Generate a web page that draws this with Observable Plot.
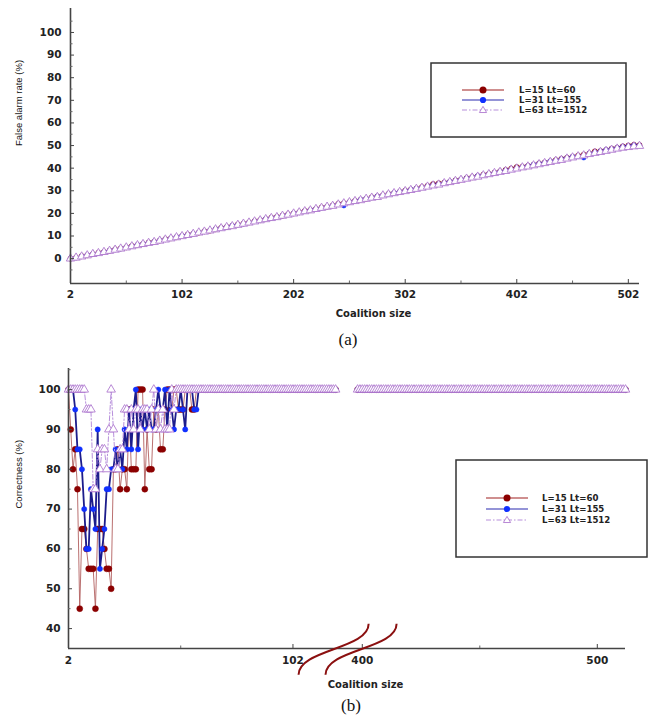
<!DOCTYPE html>
<html><head><meta charset="utf-8">
<script src="https://cdn.jsdelivr.net/npm/d3@7"></script>
<script src="https://cdn.jsdelivr.net/npm/@observablehq/plot@0.6"></script>
<style>
body{margin:0;background:#fff;}
#wrap{position:relative;width:650px;height:724px;overflow:hidden;font-family:"DejaVu Sans",sans-serif;}
#wrap svg{position:absolute;left:0;}
.cap{position:absolute;font-family:"Liberation Serif","Times New Roman",serif;font-size:17px;transform:translate(-50%,-50%);color:#111;}
</style></head><body><div id="wrap"></div>
<script>
// ---------- data ----------
const seriesNames = ["L=15 Lt=60", "L=31 Lt=155", "L=63 Lt=1512"];

// panel (a): coalition sizes 2..512 every 5
const sizesA = d3.range(2, 513, 5);
const falseAlarmL15 = [0,0.5,1.1,1.5,2.0,2.6,3.0,3.5,4.1,4.5,
 5.0,5.6,6.0,6.5,7.1,7.5,8.0,8.6,9.0,9.5,
 10.0,10.6,11.0,11.5,12.1,12.4,13.0,13.6,14.0,14.5,
 15.1,15.5,16.0,16.6,17.0,17.5,18.1,18.5,19.0,19.6,
 20.0,20.5,21.1,21.5,22.0,22.6,23.0,23.5,24.2,24.5,
 25.0,25.6,26.0,26.5,27.1,27.5,28.0,28.6,29.0,29.5,
 30.1,30.5,31.0,31.6,32.2,33.0,33.3,33.6,34.0,34.6,
 35.0,35.6,36.0,36.5,37.1,37.5,38.0,38.6,39.2,39.8,
 40.5,40.6,41.0,41.5,42.1,42.5,43.0,43.6,44.1,44.6,
 45.0,45.6,46.0,46.5,47.4,47.6,48.0,48.6,49.0,49.6,
 50.0,50.3,50.2];
const falseAlarmL31 = [0,0.4,1.0,1.6,2.0,2.4,3.0,3.6,4.0,4.4,
 5.0,5.5,6.1,6.5,7.0,7.5,8.1,8.5,9.0,9.6,
 10.1,10.5,11.0,11.6,12.0,12.5,13.1,13.5,14.0,14.6,
 15.0,15.4,16.0,16.5,17.0,17.6,18.0,18.4,19.0,19.5,
 20.0,20.4,21.0,21.5,22.0,22.4,23.0,23.5,24.0,23.4,
 25.0,25.5,26.1,26.6,27.0,27.6,28.0,28.5,29.1,29.6,
 30.0,30.6,31.0,31.5,32.0,32.6,33.0,33.5,34.1,34.5,
 35.1,35.5,36.0,36.6,37.0,37.4,38.0,38.5,39.0,39.4,
 40.0,40.5,41.0,41.6,42.0,42.5,43.1,43.5,44.0,44.5,
 45.1,45.2,44.6,46.5,47.0,47.5,48.1,48.5,49.0,49.5,
 49.8,50.2,50.0];
const falseAlarmL63 = [0,0.4,0.9,1.4,2.0,2.4,2.9,3.4,3.9,4.4,
 4.9,5.4,5.9,6.4,6.9,7.3,7.9,8.4,8.9,9.4,
 9.9,10.4,10.9,11.5,11.9,12.4,12.9,13.4,13.9,14.3,
 14.9,15.4,15.9,16.4,16.9,17.4,17.9,18.3,18.9,19.4,
 19.9,20.4,20.9,21.3,21.9,22.4,22.9,23.3,23.9,24.4,
 24.9,25.4,25.8,26.4,26.9,27.2,27.9,28.4,28.9,29.4,
 29.8,30.3,30.8,31.3,31.8,32.3,32.7,33.3,33.8,34.3,
 34.8,35.3,35.8,36.2,36.8,37.3,37.8,38.3,38.7,39.3,
 39.8,40.3,40.7,41.2,41.7,42.2,42.7,43.2,43.6,44.2,
 44.7,45.2,45.6,46.2,46.7,47.1,47.6,48.1,48.6,49.0,
 49.3,49.6,49.8];

// panel (b): coalition sizes 2..60 (varying part)
const sizesB = d3.range(2, 61);
const correctL15 = [100,90,80,85,75,45,65,65,60,55,
 55,55,45,65,65,65,60,55,55,50,
 80,80,85,75,80,80,75,95,80,80,
 80,100,100,100,75,90,80,80,95,90,
 95,85,85,95,100,100,95,100,100,95,
 95,95,100,100,100,95,95,100,100];
const correctL31 = [100,100,100,95,85,85,80,70,60,60,
 75,70,65,90,55,60,65,75,75,80,
 80,85,80,85,80,90,85,95,85,95,
 100,85,95,90,95,90,95,90,90,95,
 100,95,95,100,90,100,95,90,95,95,
 100,95,90,100,100,100,95,95,100];
const correctL63 = [100,100,100,100,100,100,100,100,95,95,
 95,75,75,85,80,85,85,80,90,100,
 90,80,80,85,85,95,95,90,95,90,
 95,95,90,95,95,95,90,95,100,90,
 95,90,95,90,90,90,100,95,100,100,
 100,100,100,100,100,100,100,100,100];
// constant runs after the varying part: [from, to] at value 100 (axis broken between them)
const flatRuns = [[61, 121], [398, 512]];
const flatValue = 100;

// ticks
const xTicksA = [2, 102, 202, 302, 402, 502];
const xMinorA = [52, 152, 252, 352, 452];
const yTicksA = [0, 10, 20, 30, 40, 50, 60, 70, 80, 90, 100];
const yMinorA = [-5, 5, 15, 25, 35, 45, 55, 65, 75, 85, 95, 105];
const xTicksB = [2, 102, 400, 500];
const xMinorB = [52, 450];
const yTicksB = [40, 50, 60, 70, 80, 90, 100];
const yMinorB = [45, 55, 65, 75, 85, 95, 105];
// axis break of panel (b): left part ends at 121, right part starts at 398
const breakLeftEnd = 121, breakRightStart = 398, breakGap = 9.8, rightStretch = 1.047;
const axisBreaks = [{x1: 104.5, x2: 402.7}, {x1: 116.5, x2: 414.6}];

// broken-axis coordinate for panel (b)
const brk = s => s <= breakLeftEnd ? s : breakLeftEnd + breakGap + (s - breakRightStart) * rightStretch;

// ---------- styles ----------
const styles = [
  {line: "#9c2a2a", lineB: "#b26060", width: 1.1, widthB: 0.9, dash: null, sym: "circle", fill: "#8b0000", mstroke: "#8b0000", r: 2.6, rB: 3},
  {line: "#1c1c9c", lineB: "#1c1c8c", width: 1.3, widthB: 1.8, dash: null, sym: "circle", fill: "#1030ff", mstroke: "#1030ff", r: 2.3, rB: 2.6},
  {line: "#b47ad2", lineB: "#b890dc", width: 1.4, widthB: 1, dash: "5,2,1.5,2", sym: "triangle", fill: "#fff", mstroke: "#b07ad0", r: 3.1, rB: 3.2}
];

// ---------- build tables ----------
const valsA = [falseAlarmL15, falseAlarmL31, falseAlarmL63];
const dataA = seriesNames.map((name, i) => sizesA.map((s, j) => ({series: name, s, v: valsA[i][j]})));
const valsB = [correctL15, correctL31, correctL63];
const dataB = seriesNames.map((name, i) => {
  const rows = sizesB.map((s, j) => ({series: name, s, v: valsB[i][j]}));
  flatRuns.forEach(([a, b], k) => {
    if (k > 0) rows.push({series: name, s: (flatRuns[k - 1][1] + a) / 2, v: NaN});
    d3.range(a, b + 1).forEach(s => rows.push({series: name, s, v: flatValue}));
  });
  return rows;
});

const tickFont = {fontSize: 10.5, fontWeight: "bold", fontFamily: "DejaVu Sans", fill: "#222"};

function seriesMarks(data, b) {
  const marks = [];
  const xf = b ? (d => brk(d.s)) : "s";
  data.forEach((rows, i) => {
    const st = styles[i];
    marks.push(Plot.line(rows, {x: xf, y: "v", stroke: b ? st.lineB : st.line, strokeWidth: b ? st.widthB : st.width, strokeDasharray: st.dash}));
    marks.push(Plot.dot(rows, {x: xf, y: "v", symbol: st.sym, r: b ? st.rB : st.r, fill: st.fill, stroke: st.mstroke, strokeWidth: st.sym === "triangle" ? 0.9 : 0.5}));
  });
  return marks;
}

const wrap = document.getElementById("wrap");

// ---------- panel (a) ----------
const plotA = Plot.plot({
  width: 650, height: 325,
  marginLeft: 70, marginRight: 11, marginTop: 8, marginBottom: 42,
  x: {domain: [2, 512]},
  y: {domain: [-11, 110.6]},
  style: {fontFamily: "DejaVu Sans", background: "transparent"},
  marks: [
    ...seriesMarks(dataA, false),
    Plot.ruleY([-11], {stroke: "#444", strokeWidth: 1.6}),
    Plot.ruleX([2], {stroke: "#444", strokeWidth: 1.6}),
    Plot.axisX({ticks: xTicksA, tickSize: -4, tickPadding: 11, label: null, stroke: "#444", ...tickFont}),
    Plot.axisX({ticks: xMinorA, tickSize: -2.5, tickFormat: () => "", label: null, stroke: "#666"}),
    Plot.axisY({ticks: yTicksA, tickSize: -4, tickPadding: 13, label: null, stroke: "#444", ...tickFont}),
    Plot.axisY({ticks: yMinorA, tickSize: -2.5, tickFormat: () => "", label: null, stroke: "#666"}),
    Plot.text(["False alarm rate (%)"], {frameAnchor: "left", rotate: -90, dx: -52, fontSize: 9.5, fontFamily: "Liberation Sans", fill: "#111"}),
    Plot.text(["Coalition size"], {frameAnchor: "bottom", dx: 18.5, dy: 33, fontSize: 10, fontWeight: "bold", fill: "#222"})
  ]
});
plotA.style.top = "0px";
wrap.appendChild(plotA);

// ---------- panel (b) ----------
const tickLabelB = new Map(xTicksB.map(t => [brk(t), String(t)]));
const plotB = Plot.plot({
  width: 650, height: 355,
  marginLeft: 68, marginRight: 25, marginTop: 23, marginBottom: 52,
  x: {domain: [2, brk(512)]},
  y: {domain: [35, 105.3]},
  style: {fontFamily: "DejaVu Sans", background: "transparent", overflow: "visible"},
  marks: [
    ...seriesMarks(dataB, true),
    Plot.ruleY([35], {stroke: "#444", strokeWidth: 1.6}),
    Plot.ruleX([2], {stroke: "#444", strokeWidth: 1.6}),
    Plot.axisX({ticks: xTicksB.map(brk), tickFormat: d => tickLabelB.get(d) ?? "", tickSize: -4, tickPadding: 12, label: null, stroke: "#444", ...tickFont}),
    Plot.axisX({ticks: xMinorB.map(brk), tickSize: -2.5, tickFormat: () => "", label: null, stroke: "#666"}),
    Plot.axisY({ticks: yTicksB, tickSize: -4, tickPadding: 12, label: null, stroke: "#444", ...tickFont}),
    Plot.axisY({ticks: yMinorB, tickSize: -2.5, tickFormat: () => "", label: null, stroke: "#666"}),
    Plot.link(axisBreaks, {x1: d => brk(d.x1), x2: d => brk(d.x2), y1: 28.4, y2: 41.2, curve: "bump-y", stroke: "#8b1010", strokeWidth: 2}),
    Plot.text(["Correctness (%)"], {frameAnchor: "left", rotate: -90, dx: -50, fontSize: 9.5, fontFamily: "Liberation Sans", fill: "#111"}),
    Plot.text(["Coalition size"], {frameAnchor: "bottom", dx: 18.5, dy: 39, fontSize: 10, fontWeight: "bold", fill: "#222"})
  ]
});
plotB.style.top = "345px";
wrap.appendChild(plotB);

// ---------- legends ----------
const overlay = d3.select(wrap).append("svg").attr("width", 650).attr("height", 724).style("top", "0px");
function legend(box, rows, lineX, markX, textX) {
  overlay.append("rect").attr("x", box[0]).attr("y", box[1]).attr("width", box[2]).attr("height", box[3])
    .attr("fill", "#fff").attr("stroke", "#333").attr("stroke-width", 1.5);
  seriesNames.forEach((name, i) => {
    const st = styles[i], y = rows[i];
    overlay.append("line").attr("x1", lineX[0]).attr("x2", lineX[1]).attr("y1", y).attr("y2", y)
      .attr("stroke", i === 0 ? "#a02020" : i === 1 ? "#2a2ab0" : st.lineB).attr("stroke-width", 1.2)
      .attr("stroke-dasharray", st.dash);
    if (st.sym === "triangle") {
      const s = 3.6;
      overlay.append("path").attr("d", `M${markX},${y - s}L${markX + s},${y + s * 0.7}L${markX - s},${y + s * 0.7}Z`)
        .attr("fill", "#fff").attr("stroke", st.mstroke).attr("stroke-width", 0.9);
    } else {
      overlay.append("circle").attr("cx", markX).attr("cy", y).attr("r", i === 0 ? 3.5 : 3.1).attr("fill", st.fill);
    }
    overlay.append("text").attr("x", textX).attr("y", y).attr("dy", "0.35em").text(name)
      .attr("font-family", "DejaVu Sans").attr("font-size", 8.6).attr("font-weight", "bold").attr("fill", "#222");
  });
}
legend([431, 63, 195, 74], [90, 100, 110], [462, 504], 483, 519);
legend([456, 460, 191, 97], [498, 509, 520], [486, 528], 507, 542);

// captions
[["(a)", 348, 340], ["(b)", 351, 706]].forEach(([t, x, y]) => {
  const d = document.createElement("div");
  d.className = "cap"; d.textContent = t; d.style.left = x + "px"; d.style.top = y + "px";
  wrap.appendChild(d);
});
</script></body></html>
